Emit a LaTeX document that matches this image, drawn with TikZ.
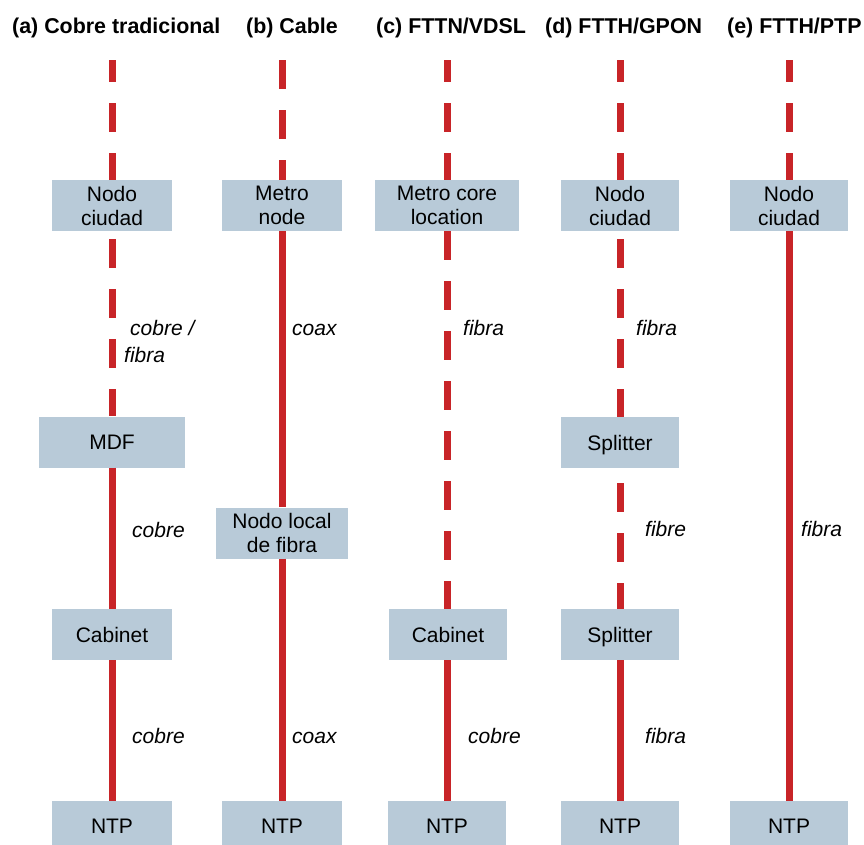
\documentclass[tikz,border=0pt]{standalone}
\usepackage{fontspec}
\setmainfont{Liberation Sans}
\usepackage{tikz}
\usetikzlibrary{positioning}
\definecolor{cablered}{RGB}{200,36,40}
\definecolor{boxblue}{RGB}{184,202,216}

\begin{document}
\begin{tikzpicture}[x=1pt,y=-1pt,
  box/.style={fill=boxblue, minimum height=51pt, inner sep=0pt, align=center, font=\fontsize{21}{24}\selectfont},
  cable/.style={draw=cablered, line width=7pt},
  dashcable/.style={cable, dash pattern=on 29pt off 21pt},
  medium/.style={anchor=base west, inner sep=0pt, align=left, font=\fontsize{21}{27}\selectfont\itshape},
  title/.style={anchor=base west, inner sep=0pt, font=\fontsize{21.4}{25}\selectfont\bfseries}]
\useasboundingbox (0,0) rectangle (864,844);
\clip (0,0) rectangle (864,844);
%%%%% titles:
\node[title] (ta) at (12,33)  {(a) Cobre tradicional};
\node[title] (tb) at (246,33) {(b) Cable};
\node[title] (tc) at (376,33) {(c) FTTN/VDSL};
\node[title] (td) at (545,33) {(d) FTTH/GPON};
\node[title] (te) at (727,33) {(e) FTTH/PTP};
%%%%% boxes:
\node[box, minimum width=120pt] (a1) at (112,205.5) {Nodo\\ciudad};
\node[box, minimum width=146pt] (a2) at (112,442)   {MDF};
\node[box, minimum width=120pt] (a3) at (112,634.5) {Cabinet};
\node[box, minimum width=120pt] (b1) at (282,205.5) {Metro\\node};
\node[box, minimum width=132pt] (b2) at (282,533)   {Nodo local\\de fibra};
\node[box, minimum width=144pt] (c1) at (447,205.5) {Metro core\\location};
\node[box, minimum width=118pt] (c2) at (448,634.5) {Cabinet};
\node[box, minimum width=118pt] (d1) at (620,205.5) {Nodo\\ciudad};
\node[box, minimum width=118pt, text depth=0pt] (d2) at (620,442.5) {Splitter};
\node[box, minimum width=118pt, text depth=0pt] (d3) at (620,634.5) {Splitter};
\node[box, minimum width=118pt] (e1) at (789,205.5) {Nodo\\ciudad};
\foreach \c/\x/\w in {a/112/120, b/282/120, c/447/118, d/620/118, e/789/118}{
  \node[box, minimum width=\w pt] (\c-ntp) at (\x,826.5) {NTP};
  \coordinate (\c-top) at (\x,60);
}
%%%%% cables:
\draw[dashcable, dash phase=7]  (a-top) -- (a1);
\draw[dashcable, dash phase=42] (a1) -- (a2);
\draw[cable] (a2) -- (a3) -- (a-ntp);
\draw[dashcable] (b-top) -- (b1);
\draw[cable] (b1) -- (b2) -- (b-ntp);
\draw[dashcable, dash phase=7]  (c-top) -- (c1);
\draw[dashcable] (c1.south) -- (c1.south |- c2.north);
\draw[cable] (c1.south |- c2.south) -- (c-ntp);
\draw[dashcable, dash phase=7]  (d-top) -- (d1);
\draw[dashcable, dash phase=42] (d1) -- (d2);
\draw[dashcable, dash phase=35] (d2) -- (d3);
\draw[cable] (d3) -- (d-ntp);
\draw[dashcable, dash phase=7]  (e-top) -- (e1);
\draw[cable] (e1) -- (e-ntp);
%%%%% media:
\node[medium] (ma1) at (124,362) {\hspace*{6pt}cobre /\\fibra};
\node[medium] (ma2) at (132,537) {cobre};
\node[medium] (ma3) at (132,743) {cobre};
\node[medium] (mb1) at (292,335) {coax};
\node[medium] (mb2) at (292,743) {coax};
\node[medium] (mc1) at (463,335) {fibra};
\node[medium] (mc2) at (468,743) {cobre};
\node[medium] (md1) at (636,335) {fibra};
\node[medium] (md2) at (645,536) {fibre};
\node[medium] (md3) at (645,743) {fibra};
\node[medium] (me1) at (801,536) {fibra};
\end{tikzpicture}
\end{document}
